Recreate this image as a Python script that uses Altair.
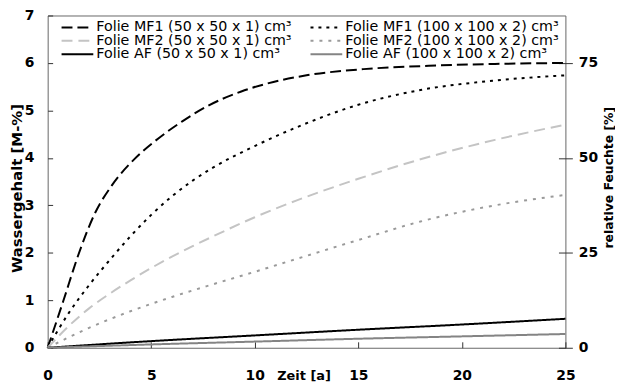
import altair as alt
import pandas as pd

# ---------------- data ----------------
series = [
    "Folie MF1 (50 x 50 x 1) cm³",
    "Folie MF1 (100 x 100 x 2) cm³",
    "Folie MF2 (50 x 50 x 1) cm³",
    "Folie MF2 (100 x 100 x 2) cm³",
    "Folie AF (50 x 50 x 1) cm³",
    "Folie AF (100 x 100 x 2) cm³",
]

mf1_50_x = [0, 0.75, 1.5, 2.3, 3.1, 4.2, 5.2, 6.5, 7.75, 9.35, 10.9, 12.5, 15.25, 18.4, 21.6, 25]
mf1_50_y = [0, 0.98, 1.98, 2.85, 3.42, 3.98, 4.36, 4.77, 5.1, 5.4, 5.6, 5.74, 5.87, 5.94, 5.98, 6.0]

mf1_100_x = [0, 1, 2, 3, 4, 5, 6, 7, 8, 10, 12, 15, 18, 21.6, 25]
mf1_100_y = [0, 0.72, 1.32, 1.85, 2.35, 2.8, 3.19, 3.52, 3.8, 4.25, 4.64, 5.12, 5.43, 5.63, 5.74]

mf2_50_x = [0, 1, 2, 3, 4, 5, 6, 7, 8, 10, 12, 15, 18, 21.6, 25]
mf2_50_y = [0, 0.45, 0.83, 1.14, 1.42, 1.68, 1.92, 2.14, 2.35, 2.75, 3.1, 3.56, 3.97, 4.38, 4.7]

mf2_100_x = [0, 2, 4, 6, 8, 10, 12, 15, 18, 21.6, 25]
mf2_100_y = [0, 0.42, 0.77, 1.07, 1.34, 1.6, 1.87, 2.27, 2.66, 3.0, 3.22]

af_50_x = [0, 5, 10, 15, 20, 25]
af_50_y = [0, 0.14, 0.26, 0.38, 0.49, 0.61]

af_100_x = [0, 5, 10, 15, 20, 25]
af_100_y = [0, 0.07, 0.13, 0.19, 0.24, 0.29]

x_ticks = [0, 5, 10, 15, 20, 25]
y_ticks = [0, 1, 2, 3, 4, 5, 6, 7]
rh_ticks = [0, 25, 50, 75]
rh_max = 87.5

# ---------------- styles ----------------
colors = ["#000000", "#000000", "#c4c4c4", "#9a9a9a", "#000000", "#848484"]
dashes = [[11, 5], [3, 5], [11, 6], [3, 6], [1, 0], [1, 0]]
widths = [2, 2, 1.6, 2, 1.6, 3.5]

FONT = "DejaVu Sans"

xs_list = [mf1_50_x, mf1_100_x, mf2_50_x, mf2_100_x, af_50_x, af_100_x]
ys_list = [mf1_50_y, mf1_100_y, mf2_50_y, mf2_100_y, af_50_y, af_100_y]

rows = []
for name, xs, ys in zip(series, xs_list, ys_list):
    for x, y in zip(xs, ys):
        rows.append({"series": name, "zeit": x, "wg": y})
df = pd.DataFrame(rows)

legend_df = pd.DataFrame({"series": series, "idx": list(range(len(series)))})
rh_df = pd.DataFrame({"rh": rh_ticks})

color_scale = alt.Scale(domain=series, range=colors)
dash_scale = alt.Scale(domain=series, range=dashes)
width_scale = alt.Scale(domain=series, range=widths)

color_enc = alt.Color("series:N", scale=color_scale, legend=None)
dash_enc = alt.StrokeDash("series:N", scale=dash_scale, legend=None)
width_enc = alt.StrokeWidth("series:N", scale=width_scale, legend=None)

lab = dict(labelFont=FONT, labelFontWeight="bold", labelFontSize=14, labelColor="black",
           titleFont=FONT, titleFontWeight="bold", titleColor="black",
           tickColor="#333333", domain=False, grid=False)

x_axis = alt.Axis(values=x_ticks, title="Zeit [a]", orient="bottom", offset=-6, tickSize=6,
                  labelPadding=21, labelFlush=False, titleFontSize=13, titleX=258, titleY=34,
                  titleBaseline="middle", titleAlign="center", **lab)
y_axis = alt.Axis(values=y_ticks, title="Wassergehalt [M-%]", orient="left", offset=-5, tickSize=5,
                  labelPadding=14, titleFontSize=15, titleAngle=270, titleX=-36, titleY=174,
                  titleBaseline="middle", titleAlign="center", **lab)
rh_axis = alt.Axis(values=rh_ticks, title="relative Feuchte [%]", orient="right", offset=-7, tickSize=14,
                   labelPadding=6, titleFontSize=12.5, titleAngle=270, titleX=50, titleY=163,
                   titleBaseline="middle", titleAlign="center", **lab)

lines = alt.Chart(df).mark_line(interpolate="monotone").encode(
    x=alt.X("zeit:Q", scale=alt.Scale(domain=[0, 25], nice=False), axis=x_axis),
    y=alt.Y("wg:Q", scale=alt.Scale(domain=[0, 7], nice=False), axis=y_axis),
    color=color_enc,
    strokeDash=dash_enc,
    strokeWidth=width_enc,
    order=alt.Order("zeit:Q"),
)

legend_base = alt.Chart(legend_df).transform_calculate(
    col="datum.idx % 2",
    row="floor(datum.idx / 2)",
).transform_calculate(
    lx="14 + datum.col * 251",
    ly="12 + datum.row * 13.5",
).transform_calculate(
    lx2="datum.lx + 32",
    tx="datum.lx + 35",
)

legend_rules = legend_base.mark_rule().encode(
    x=alt.X("lx:Q", scale=None, axis=None),
    x2="lx2:Q",
    y=alt.Y("ly:Q", scale=None, axis=None),
    color=color_enc,
    strokeDash=dash_enc,
    strokeWidth=width_enc,
)

legend_text = legend_base.mark_text(align="left", baseline="middle", font=FONT, fontSize=14.4,
                                    color="black").encode(
    x=alt.X("tx:Q", scale=None, axis=None),
    y=alt.Y("ly:Q", scale=None, axis=None),
    text="series:N",
)

right = alt.Chart(rh_df).mark_point(opacity=0).encode(
    y=alt.Y("rh:Q", scale=alt.Scale(domain=[0, rh_max], nice=False), axis=rh_axis),
)

chart = alt.layer(lines, legend_rules, legend_text, right).resolve_scale(
    y="independent"
).properties(
    width=522,
    height=335,
    padding={"left": 40, "top": 6, "right": 50, "bottom": 38},
    autosize=alt.AutoSizeParams(type="none"),
    background="white",
).configure_view(stroke="#666666", strokeWidth=1)

chart.save("out.html", embed_options={"renderer": "svg", "actions": False})
